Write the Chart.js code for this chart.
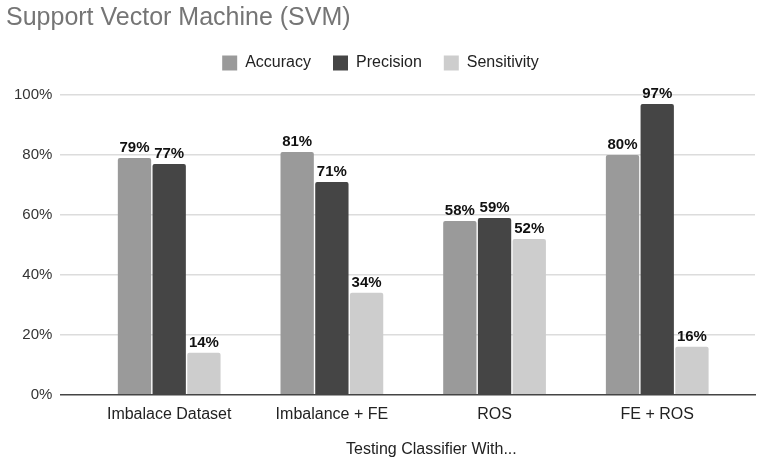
<!DOCTYPE html>
<html>
<head>
<meta charset="utf-8">
<script src="https://cdn.jsdelivr.net/npm/chart.js@4"></script>
<style>
  html, body { margin: 0; padding: 0; background: #fff; }
  #wrap { width: 758px; height: 463px; }
</style>
</head>
<body>
<div id="wrap"><canvas id="myChart" width="758" height="463"></canvas></div>
<script>
// chart values
const categories = ['Imbalace Dataset', 'Imbalance + FE', 'ROS', 'FE + ROS'];
const accuracy = [79, 81, 58, 80];
const precision = [77, 71, 59, 97];
const sensitivity = [14, 34, 52, 16];
const yTicks = [0, 20, 40, 60, 80, 100];
const xTitle = 'Testing Classifier With...';

const FONT = "'Liberation Sans', Arial, sans-serif";

// writes the percentage above every bar
const valueLabels = {
    id: 'valueLabels',
    afterDatasetsDraw(chart) {
        const ctx = chart.ctx;
        ctx.save();
        ctx.font = 'bold 15px ' + FONT;
        ctx.fillStyle = '#111';
        ctx.textAlign = 'center';
        ctx.textBaseline = 'alphabetic';
        chart.data.datasets.forEach((ds, i) => {
            chart.getDatasetMeta(i).data.forEach((bar, j) => {
                ctx.fillText(ds.data[j].y + '%', bar.x, bar.y - 6);
            });
        });
        ctx.restore();
    }
};

// x axis title sits a bit right of centre in the original
const axisTitle = {
    id: 'axisTitle',
    afterDraw(chart) {
        const ctx = chart.ctx;
        ctx.save();
        ctx.font = '16px ' + FONT;
        ctx.fillStyle = '#222';
        ctx.textAlign = 'center';
        ctx.textBaseline = 'middle';
        ctx.fillText(xTitle, chart.chartArea.left + 371, chart.chartArea.bottom + 55);
        ctx.restore();
    }
};

// more room between legend and plot
const legendGap = {
    id: 'legendGap',
    afterInit(chart) {
        const legend = chart.legend;
        const fit = legend.fit;
        legend.fit = function () {
            fit.call(this);
            this.height += 14;
        };
    }
};

function points(values) {
    return values.map((v, i) => ({ x: i, y: v }));
}

document.addEventListener('DOMContentLoaded', function () {
    const ctx = document.getElementById('myChart').getContext('2d');

    const data = {
        datasets: [
            { label: 'Accuracy', data: points(accuracy), backgroundColor: '#9a9a9a' },
            { label: 'Precision', data: points(precision), backgroundColor: '#454545' },
            { label: 'Sensitivity', data: points(sensitivity), backgroundColor: '#cdcdcd' }
        ]
    };

    const config = {
        type: 'bar',
        data: data,
        options: {
            responsive: false,
            animation: false,
            categoryPercentage: 0.64,
            barPercentage: 0.96,
            datasets: { bar: { borderRadius: { topLeft: 2, topRight: 2 } } },
            layout: { padding: { left: 6, right: 3, bottom: 37, top: 0 } },
            plugins: {
                title: {
                    display: true,
                    text: 'Support Vector Machine (SVM)',
                    align: 'start',
                    color: '#757575',
                    font: { family: FONT, size: 25, weight: 'normal' },
                    padding: { top: 3, bottom: 0 }
                },
                legend: {
                    labels: {
                        boxWidth: 15,
                        boxHeight: 15,
                        padding: 22,
                        color: '#222',
                        font: { family: FONT, size: 16 }
                    }
                },
                tooltip: { enabled: false }
            },
            scales: {
                x: {
                    type: 'linear',
                    offset: false,
                    min: -0.669,
                    max: 3.601,
                    afterBuildTicks: (scale) => {
                        scale.ticks = categories.map((c, i) => ({ value: i }));
                    },
                    grid: { display: false },
                    border: { display: true, color: '#444', width: 1.5 },
                    ticks: {
                        autoSkip: false,
                        maxRotation: 0,
                        padding: 2,
                        color: '#222',
                        font: { family: FONT, size: 16 },
                        callback: (v) => categories[v]
                    }
                },
                y: {
                    min: 0,
                    max: 100,
                    afterBuildTicks: (scale) => {
                        scale.ticks = yTicks.map((v) => ({ value: v }));
                    },
                    border: { display: false },
                    grid: {
                        drawTicks: false,
                        color: (c) => c.tick.value === 0 ? 'rgba(0,0,0,0)' : '#dcdcdc',
                        lineWidth: 1.5
                    },
                    ticks: {
                        padding: 8,
                        color: '#333',
                        font: { family: FONT, size: 15 },
                        callback: (v) => v + '%'
                    }
                }
            }
        },
        plugins: [valueLabels, axisTitle, legendGap]
    };

    new Chart(ctx, config);
});
</script>
</body>
</html>
